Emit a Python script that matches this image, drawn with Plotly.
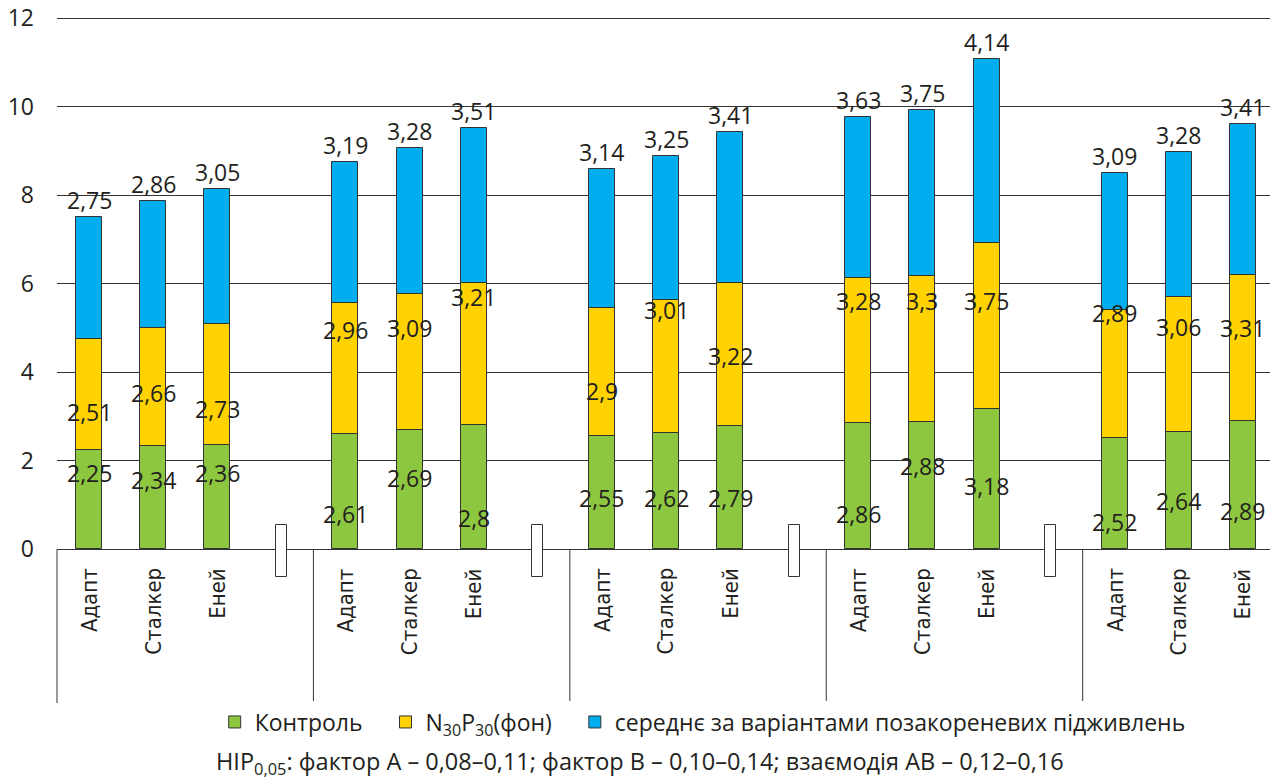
import plotly.graph_objects as go

years = ["2013", "2014", "2015", "2016", "2017"]
varieties = ["Адапт", "Сталкер", "Еней"]

control = [2.25, 2.34, 2.36, 2.61, 2.69, 2.80, 2.55, 2.62, 2.79, 2.86, 2.88, 3.18, 2.52, 2.64, 2.89]
background = [2.51, 2.66, 2.73, 2.96, 3.09, 3.21, 2.90, 3.01, 3.22, 3.28, 3.30, 3.75, 2.89, 3.06, 3.31]
foliar = [2.75, 2.86, 3.05, 3.19, 3.28, 3.51, 3.14, 3.25, 3.41, 3.63, 3.75, 4.14, 3.09, 3.28, 3.41]

# label placement (data units)
green_lbl_y = [1.72, 1.56, 1.72, 0.80, 1.60, 0.70, 1.15, 1.15, 1.15, 0.80, 1.88, 1.42, 0.62, 1.08, 0.86]
yellow_lbl_y = [3.10, 3.53, 3.17, 4.95, 4.99, 5.70, 3.57, 5.40, 4.36, 5.60, 5.60, 5.60, 5.33, 5.02, 4.99]

NB = "\u00a0"
series_names = ["Контроль" + NB * 3, "N<sub>30</sub>P<sub>30</sub>(фон)" + NB * 3,
                "середнє за варіантами позакореневих підживлень"]
colors = ["#8DC63F", "#FFD200", "#00AEEF"]
footnote = "НІР<sub>0,05</sub>: фактор А – 0,08–0,11; фактор В – 0,10–0,14; взаємодія АВ – 0,12–0,16"

FONT = "Open Sans"
NARROW = "DejaVu Sans Condensed, Open Sans"
TXT = "#231F20"
LINE = "#333333"
Y_RANGE = [-0.65, 12.03]

# x slots: 3 varieties per year + one spacer slot between years
xs, var_lbl, spacer_x = [], [], []
slot = 0
for yi, y in enumerate(years):
    for v in varieties:
        xs.append(slot)
        var_lbl.append(v)
        slot += 1
    if yi < len(years) - 1:
        spacer_x.append(slot)
        slot += 1
n_slots = slot

fig = go.Figure()
bases = [[0] * len(control), control, [c + b for c, b in zip(control, background)]]
for vals, base, name, col in zip([control, background, foliar], bases, series_names, colors):
    fig.add_trace(go.Bar(x=xs, y=vals, base=base, name=name, width=0.405,
                         marker=dict(color=col, line=dict(color=LINE, width=1))))

# spacer marks between years
fig.add_trace(go.Bar(x=spacer_x, y=[1.17] * len(spacer_x), base=[-0.63] * len(spacer_x),
                     width=0.17, showlegend=False, hoverinfo="skip",
                     marker=dict(color="white", line=dict(color=LINE, width=1))))

def fmt(v):
    s = ("%.2f" % v).rstrip("0").rstrip(".")
    return s.replace(".", ",")

NUMF = dict(size=23, color=TXT, family=FONT)
ann = []
for i, x in enumerate(xs):
    tot = control[i] + background[i] + foliar[i]
    ann.append(dict(x=x, y=tot, yref="y", text=fmt(foliar[i]), showarrow=False,
                    yanchor="bottom", yshift=-1, font=NUMF))
    ann.append(dict(x=x, y=yellow_lbl_y[i], text=fmt(background[i]), showarrow=False,
                    yanchor="middle", font=NUMF))
    ann.append(dict(x=x, y=green_lbl_y[i], text=fmt(control[i]), showarrow=False,
                    yanchor="middle", font=NUMF))
    ann.append(dict(x=x, y=-0.38, text=var_lbl[i], showarrow=False, textangle=-90,
                    xanchor="center", yanchor="top",
                    font=dict(size=22, color=TXT, family=NARROW)))

# year labels
for yi, y in enumerate(years):
    start = xs[yi * 3]
    ann.append(dict(x=start + 1, y=-2.78, text=y, showarrow=False, yanchor="middle",
                    font=dict(size=22.5, color=TXT, family=FONT)))

# group separators below the axis
zero_paper = -Y_RANGE[0] / (Y_RANGE[1] - Y_RANGE[0])
shapes = []
bounds = [-0.5] + [s + 0.5 for s in spacer_x] + [n_slots - 0.5]
for b in bounds:
    px = (b + 0.5) / n_slots
    shapes.append(dict(type="line", xref="paper", yref="paper", x0=px, x1=px,
                       y0=zero_paper, y1=-0.223, line=dict(color=LINE, width=1)))

ann.append(dict(xref="paper", yref="paper", x=0.479, y=-0.329, text=footnote,
                showarrow=False, xanchor="center", yanchor="middle",
                font=dict(size=23.5, color=TXT, family=FONT)))

# page body has an 8px margin, so the figure is 8px smaller and margins shifted
fig.update_layout(
    width=1270, height=775,
    margin=dict(l=49, r=3, t=9, b=205, autoexpand=False),
    plot_bgcolor="white", paper_bgcolor="white",
    barmode="overlay", bargap=0,
    showlegend=True,
    legend=dict(orientation="h", xref="container", yref="container",
                x=0.547, xanchor="center", y=0.0787, yanchor="middle",
                font=dict(size=23, color=TXT, family=FONT), itemwidth=30,
                traceorder="normal", tracegroupgap=0),
    annotations=ann, shapes=shapes,
    font=dict(family=FONT, color=TXT),
)
fig.update_xaxes(range=[-0.5, n_slots - 0.5], showticklabels=False, showgrid=False,
                 zeroline=False, showline=False, ticks="", automargin=False)
fig.update_yaxes(range=Y_RANGE, tickvals=[0, 2, 4, 6, 8, 10, 12],
                 showgrid=True, gridcolor=LINE, gridwidth=1, zeroline=False,
                 showline=False, ticks="", ticklabelstandoff=22, automargin=False,
                 ticklabeloverflow="allow",
                 tickfont=dict(size=23, color=TXT, family=FONT))

fig.write_html("out.html")
